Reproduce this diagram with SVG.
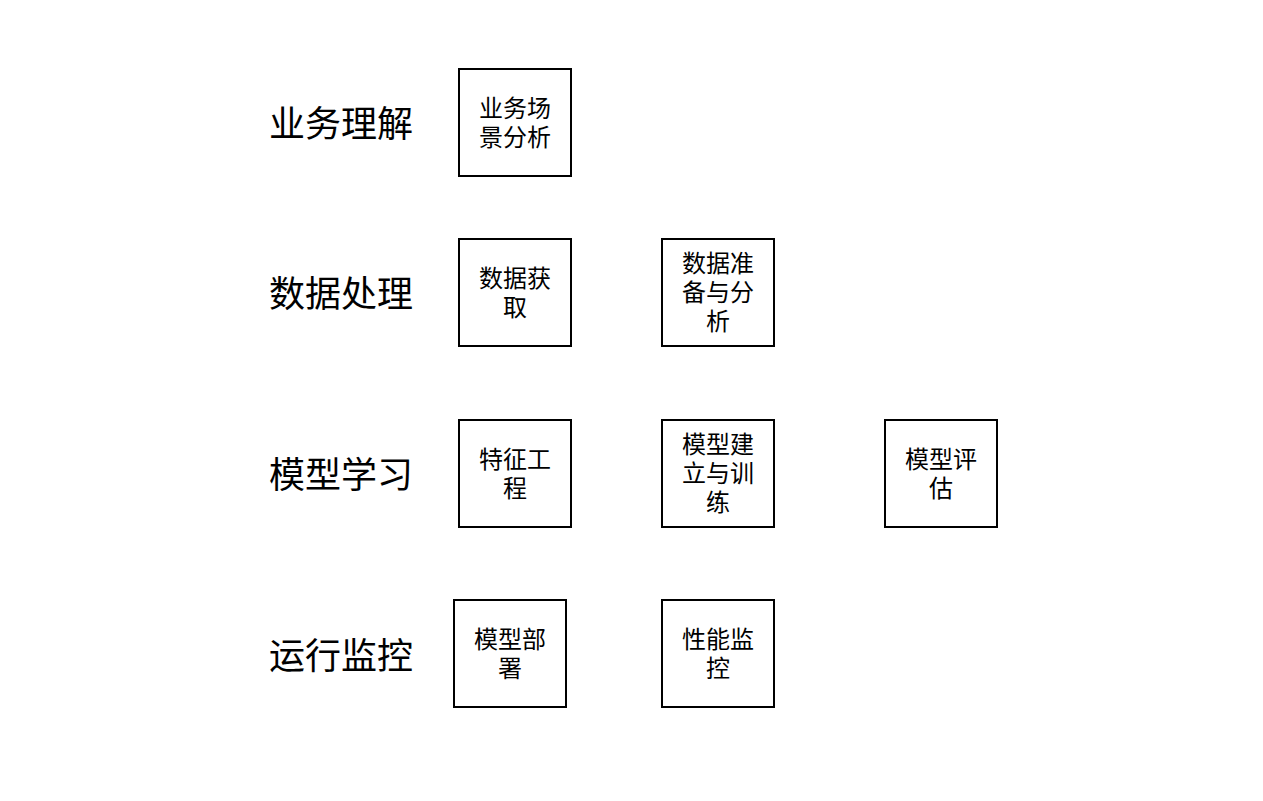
<svg xmlns="http://www.w3.org/2000/svg" width="1263" height="801" viewBox="0 0 1263 801">
<style>
.box{fill:#fff;stroke:#000;stroke-width:2}
.t{font-family:"Noto Sans CJK SC","Noto Sans",sans-serif;font-size:24px;fill:#000;text-anchor:middle;dominant-baseline:central}
.lab{font-family:"Noto Sans CJK SC","Noto Sans",sans-serif;font-size:36px;fill:#000;text-anchor:start;dominant-baseline:central}
</style>
<rect width="1263" height="801" fill="#fff"/>
<g id="labels">
<text class="lab" x="269" y="121">业务理解</text>
<text class="lab" x="269" y="291">数据处理</text>
<text class="lab" x="269" y="472">模型学习</text>
<text class="lab" x="269" y="653">运行监控</text>
</g>
<g id="n1"><rect class="box" x="459" y="69" width="112" height="107"/><text class="t" x="515" y="106">业务场</text><text class="t" x="515" y="135">景分析</text></g>
<g id="n2"><rect class="box" x="459" y="239" width="112" height="107"/><text class="t" x="515" y="276">数据获</text><text class="t" x="515" y="305">取</text></g>
<g id="n3"><rect class="box" x="662" y="239" width="112" height="107"/><text class="t" x="718" y="261">数据准</text><text class="t" x="718" y="290">备与分</text><text class="t" x="718" y="319">析</text></g>
<g id="n4"><rect class="box" x="459" y="420" width="112" height="107"/><text class="t" x="515" y="457">特征工</text><text class="t" x="515" y="486">程</text></g>
<g id="n5"><rect class="box" x="662" y="420" width="112" height="107"/><text class="t" x="718" y="442">模型建</text><text class="t" x="718" y="471">立与训</text><text class="t" x="718" y="500">练</text></g>
<g id="n6"><rect class="box" x="885" y="420" width="112" height="107"/><text class="t" x="941" y="457">模型评</text><text class="t" x="941" y="486">估</text></g>
<g id="n7"><rect class="box" x="454" y="600" width="112" height="107"/><text class="t" x="510" y="637">模型部</text><text class="t" x="510" y="666">署</text></g>
<g id="n8"><rect class="box" x="662" y="600" width="112" height="107"/><text class="t" x="718" y="637">性能监</text><text class="t" x="718" y="666">控</text></g>
<g id="connectors"></g>
</svg>
